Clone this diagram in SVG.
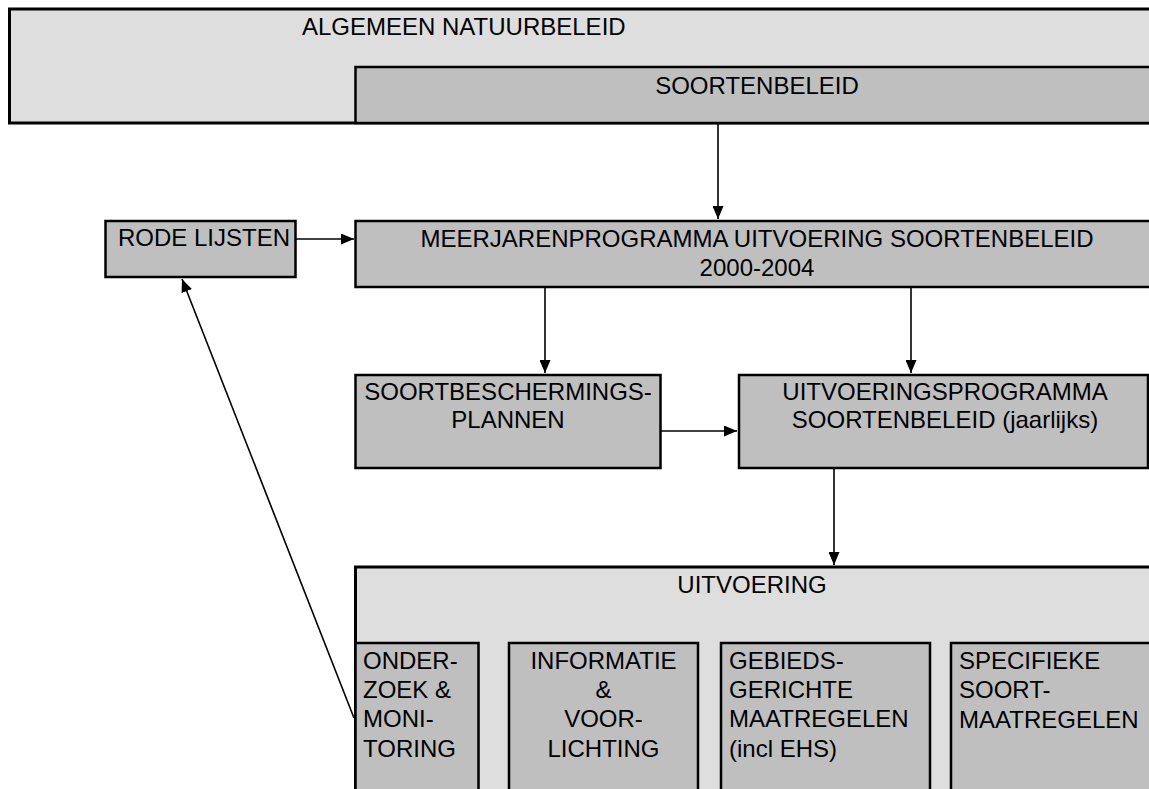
<svg xmlns="http://www.w3.org/2000/svg" width="1149" height="789" viewBox="0 0 1149 789">
<defs>
<style>
.light{fill:#dedede;stroke:#000;stroke-width:3}
.dark{fill:#bfbfbf;stroke:#000;stroke-width:2.5}
text{font-family:"Liberation Sans",Arial,sans-serif;font-size:24px;fill:#000}
.c{text-anchor:middle}
.conn{stroke:#000;stroke-width:1.6;fill:none;marker-end:url(#ah)}
</style>
<marker id="ah" viewBox="0 0 13 11" refX="13" refY="5.5" markerWidth="13" markerHeight="11" markerUnits="userSpaceOnUse" orient="auto">
<path d="M0,0 L13,5.5 L0,11 Z" fill="#000"/>
</marker>
</defs>
<rect width="1149" height="789" fill="#fff"/>
<g id="algemeen">
<rect class="light" x="9.5" y="9" width="1145" height="114"/>
<text x="302" y="35">ALGEMEEN NATUURBELEID</text>
</g>
<g id="soortenbeleid">
<rect class="dark" x="355.5" y="67" width="800" height="56"/>
<text class="c" x="757" y="94">SOORTENBELEID</text>
</g>
<g id="rodelijsten">
<rect class="dark" x="105.5" y="221" width="190" height="56"/>
<text x="118" y="246">RODE LIJSTEN</text>
</g>
<g id="meerjaren">
<rect class="dark" x="355.5" y="221" width="800" height="66"/>
<text class="c" x="757" y="247">MEERJARENPROGRAMMA UITVOERING SOORTENBELEID</text>
<text class="c" x="757" y="276">2000-2004</text>
</g>
<g id="soortbescherming">
<rect class="dark" x="355.5" y="375" width="305" height="93"/>
<text class="c" x="508" y="400">SOORTBESCHERMINGS-</text>
<text class="c" x="508" y="428">PLANNEN</text>
</g>
<g id="uitvoeringsprogramma">
<rect class="dark" x="739" y="375" width="409" height="93"/>
<text class="c" x="945" y="400">UITVOERINGSPROGRAMMA</text>
<text class="c" x="945" y="428">SOORTENBELEID (jaarlijks)</text>
</g>
<g id="uitvoering">
<rect class="light" x="355.5" y="567" width="800" height="240"/>
<text class="c" x="752" y="593">UITVOERING</text>
</g>
<g id="onderzoek">
<rect class="dark" x="355.5" y="643" width="123" height="160"/>
<text x="363" y="669">ONDER-</text>
<text x="363" y="698">ZOEK &amp;</text>
<text x="363" y="727">MONI-</text>
<text x="363" y="757">TORING</text>
</g>
<g id="informatie">
<rect class="dark" x="509" y="643" width="189" height="160"/>
<text class="c" x="603.5" y="669">INFORMATIE</text>
<text class="c" x="603.5" y="698">&amp;</text>
<text class="c" x="603.5" y="727">VOOR-</text>
<text class="c" x="603.5" y="757">LICHTING</text>
</g>
<g id="gebieds">
<rect class="dark" x="721" y="643" width="209" height="160"/>
<text x="729" y="669">GEBIEDS-</text>
<text x="729" y="698">GERICHTE</text>
<text x="729" y="727">MAATREGELEN</text>
<text x="729" y="757">(incl EHS)</text>
</g>
<g id="specifieke">
<rect class="dark" x="951" y="643" width="210" height="160"/>
<text x="959" y="669">SPECIFIEKE</text>
<text x="959" y="698">SOORT-</text>
<text x="959" y="728">MAATREGELEN</text>
</g>
<g id="connectors">
<line class="conn" x1="718" y1="124" x2="718" y2="219"/>
<line class="conn" x1="296" y1="239" x2="354" y2="239"/>
<line class="conn" x1="545" y1="288" x2="545" y2="373"/>
<line class="conn" x1="911" y1="288" x2="911" y2="373"/>
<line class="conn" x1="661" y1="431" x2="737" y2="431"/>
<line class="conn" x1="834" y1="469" x2="834" y2="565"/>
<line class="conn" x1="354" y1="718" x2="182" y2="279"/>
</g>
</svg>
